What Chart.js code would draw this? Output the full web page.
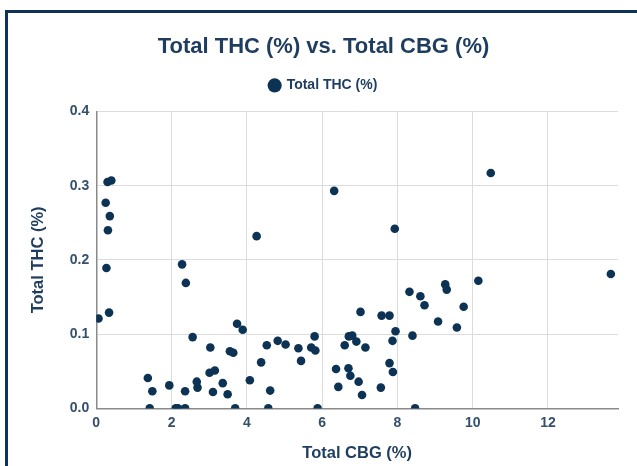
<!DOCTYPE html>
<html>
<head>
<meta charset="utf-8">
<script src="https://cdn.jsdelivr.net/npm/chart.js@4.4.0/dist/chart.umd.min.js"></script>
<style>
    html, body { margin: 0; padding: 0; background: #fff; overflow: hidden; width: 637px; height: 466px; }
    .frame { position: absolute; left: 5px; top: 10px; width: 660px; height: 480px; border-top: 3px solid #0f3358; border-left: 3px solid #0f3358; }
    .wrap { position: absolute; left: 8px; top: 13px; width: 629px; height: 453px; }
</style>
</head>
<body>
<div class="frame"></div>
<div class="wrap"><canvas id="scatter" width="629" height="453"></canvas></div>
<script>
// 데이터 ////////////////////////////////////////////////////////////
const seriesName = "Total THC (%)";
const cbg = [0.06, 0.30, 0.40, 0.25, 0.36, 0.31, 0.27, 0.34, 2.28, 2.38,
             2.56, 3.03, 3.74, 3.89, 3.55, 3.64, 1.37, 1.49, 1.94, 1.42,
             2.11, 2.17, 2.36, 2.36, 2.67, 2.69, 3.01, 3.15, 3.10, 3.36,
             3.49, 3.69, 4.08, 4.26, 4.38, 4.53, 4.62, 4.57, 4.82, 5.03,
             5.37, 5.44, 5.71, 5.80, 5.82, 5.88, 6.37, 6.43, 6.60, 6.71,
             6.80, 6.70, 6.75, 6.91, 6.97, 7.06, 7.02, 7.15, 7.58, 7.79,
             7.56, 7.95, 7.87, 7.79, 7.88, 8.40, 8.47, 8.32, 8.61, 8.72,
             9.27, 9.31, 10.15, 9.76, 9.08, 9.58, 13.67, 6.32, 7.93, 10.48];
const thc = [0.121, 0.305, 0.307, 0.277, 0.259, 0.240, 0.189, 0.129, 0.194, 0.169,
             0.096, 0.082, 0.114, 0.106, 0.077, 0.075, 0.041, 0.023, 0.031, 0.000,
             0.000, 0.000, 0.000, 0.023, 0.036, 0.028, 0.048, 0.051, 0.022, 0.034,
             0.019, 0.000, 0.038, 0.232, 0.062, 0.085, 0.024, 0.000, 0.091, 0.086,
             0.081, 0.064, 0.082, 0.097, 0.078, 0.000, 0.053, 0.029, 0.085, 0.097,
             0.098, 0.054, 0.044, 0.090, 0.036, 0.018, 0.130, 0.082, 0.125, 0.125,
             0.028, 0.104, 0.091, 0.061, 0.049, 0.098, 0.000, 0.157, 0.151, 0.139,
             0.167, 0.160, 0.172, 0.137, 0.117, 0.109, 0.181, 0.293, 0.242, 0.317];
const xTicks = [0, 2, 4, 6, 8, 10, 12];
const yTicks = [0, 0.1, 0.2, 0.3, 0.4];

const navy = '#0c3254';
const textColor = '#1f3d5e';
const font = "'Liberation Sans', Arial, sans-serif";

new Chart(document.getElementById("scatter"), {
    type: "scatter",
    data: {
        datasets: [{
            label: seriesName,
            data: cbg.map((x, i) => ({ x: x, y: thc[i] })),
            backgroundColor: navy,
            borderColor: navy,
            pointRadius: 4.3,
            pointHoverRadius: 4.3,
            borderWidth: 0
        }]
    },
    options: {
        responsive: false,
        animation: false,
        layout: { padding: { top: 0, right: 19, bottom: 3, left: 21 } },
        plugins: {
            title: {
                display: true,
                text: "Total THC (%) vs. Total CBG (%)",
                color: textColor,
                font: { family: font, size: 22, weight: 'bold' },
                padding: { top: 21, bottom: 8 }
            },
            legend: {
                labels: {
                    usePointStyle: true,
                    pointStyle: 'circle',
                    boxWidth: 10,
                    boxHeight: 10,
                    color: textColor,
                    font: { family: font, size: 14, weight: 'bold' },
                    padding: 10
                }
            },
            tooltip: { enabled: false }
        },
        scales: {
            x: {
                type: 'linear',
                min: 0,
                max: 13.86,
                afterBuildTicks: (scale) => { scale.ticks = xTicks.map(v => ({ value: v })); },
                grid: { color: '#dcdcdc', drawTicks: false },
                border: { display: true, color: '#8a8a8a', width: 1.5 },
                ticks: {
                    color: '#34506c',
                    padding: 6,
                    font: { family: font, size: 14, weight: 'bold' }
                },
                title: {
                    display: true,
                    text: "Total CBG (%)",
                    color: textColor,
                    font: { family: font, size: 16.5, weight: 'bold' },
                    padding: { top: 6, bottom: 0 }
                }
            },
            y: {
                min: 0,
                max: 0.4,
                afterBuildTicks: (scale) => { scale.ticks = yTicks.map(v => ({ value: v })); },
                grid: { color: '#dcdcdc', drawTicks: false },
                border: { display: true, color: '#8a8a8a', width: 1.5 },
                ticks: {
                    color: '#34506c',
                    padding: 7,
                    font: { family: font, size: 14, weight: 'bold' },
                    callback: (v) => v.toFixed(1)
                },
                title: {
                    display: true,
                    text: "Total THC (%)",
                    color: textColor,
                    font: { family: font, size: 16.5, weight: 'bold' },
                    padding: { top: 0, bottom: 14 }
                }
            }
        }
    },
    plugins: [{
        id: 'legendGap',                 // 범례 아래 여백 추가
        beforeInit(chart) {
            const fit = chart.legend.fit;
            chart.legend.fit = function () {
                fit.bind(chart.legend)();
                this.height += 9;
            };
        }
    }]
});
</script>
</body>
</html>
